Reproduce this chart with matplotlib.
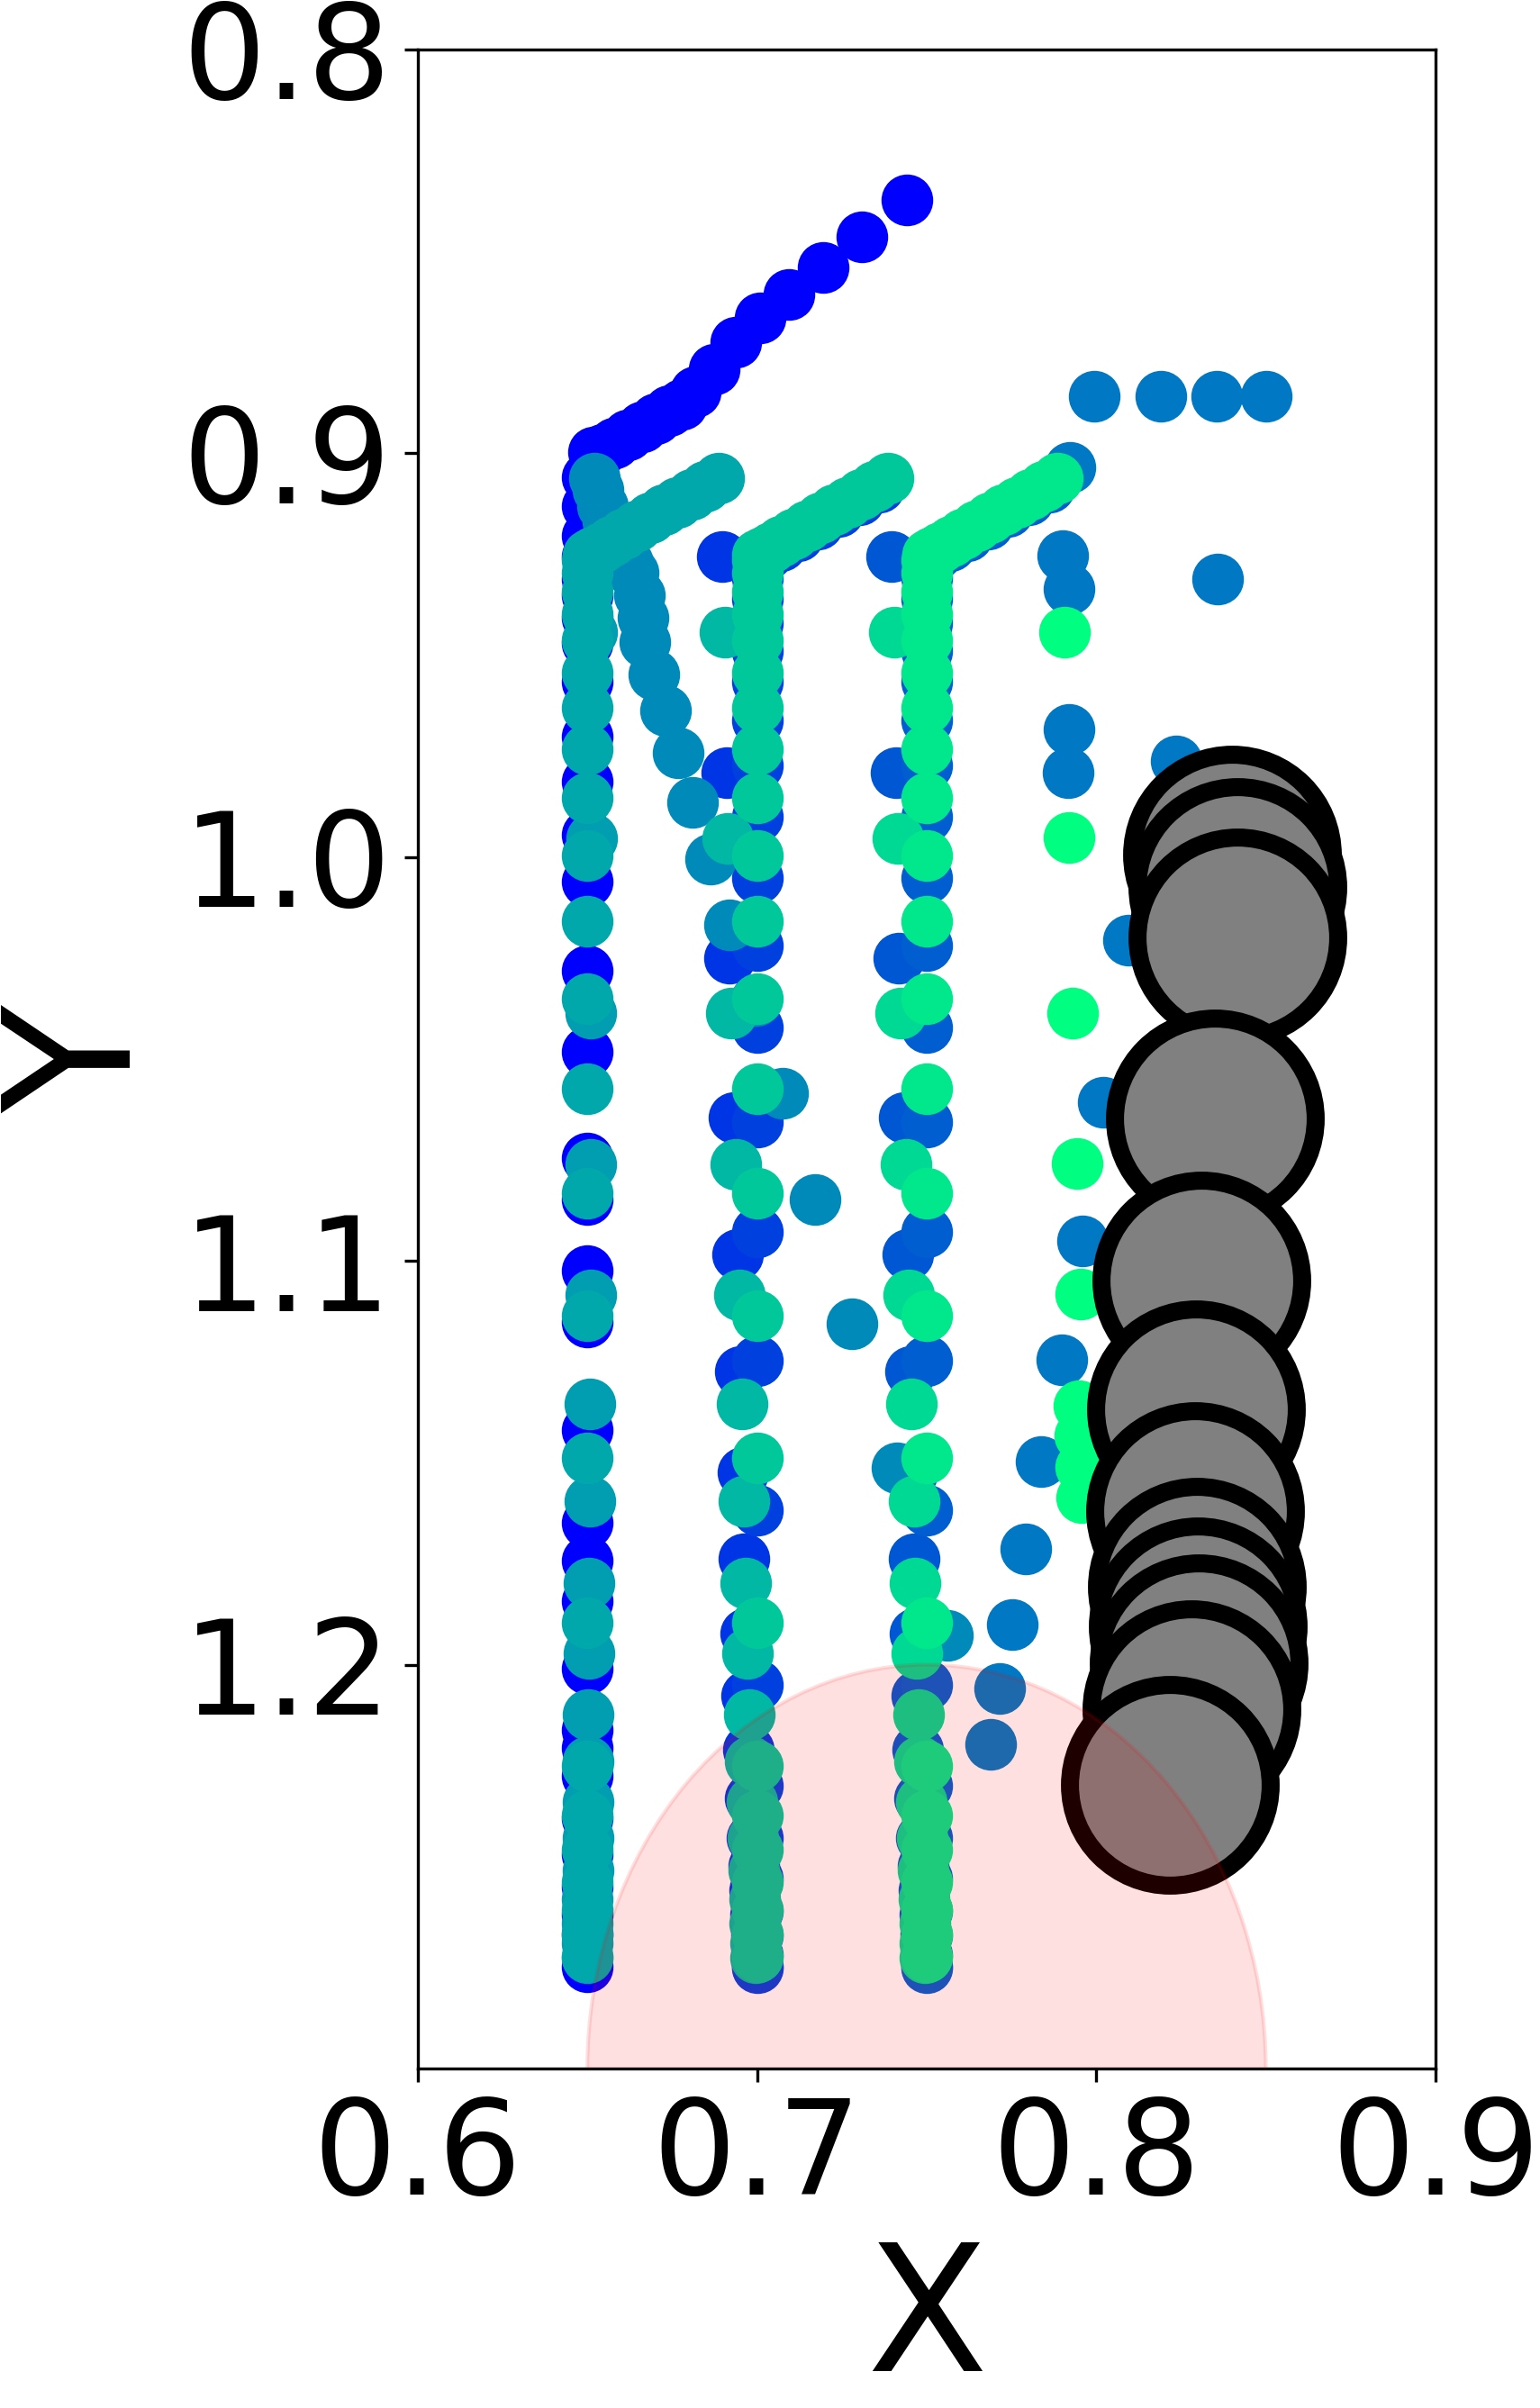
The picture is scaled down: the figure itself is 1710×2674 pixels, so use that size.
import numpy as np
import matplotlib
matplotlib.use("Agg")
import matplotlib.pyplot as plt
from matplotlib.patches import Circle

# colour of every agent = winter colormap at value t
cmap = plt.get_cmap("winter")

# agent 0 - pure blue, comes in from the top right, then walks down x=0.65
blue_col1_x = [0.7441, 0.7309, 0.7194, 0.7093, 0.7010, 0.6937, 0.6875, 0.6819, 0.6778, 0.6740,
               0.6700, 0.6660, 0.6620, 0.6580, 0.6545, 0.6519,
               0.650, 0.650, 0.650, 0.650, 0.650, 0.650, 0.650, 0.650, 0.650, 0.650,
               0.650, 0.650, 0.650, 0.650, 0.650, 0.650, 0.650, 0.650, 0.650, 0.650,
               0.650, 0.650, 0.650, 0.650, 0.650, 0.650, 0.650, 0.650, 0.650, 0.650,
               0.650, 0.650, 0.650]
blue_col1_y = [0.8373, 0.8464, 0.8541, 0.8607, 0.8665, 0.8725, 0.8793, 0.8848, 0.8878, 0.8895,
               0.8915, 0.8935, 0.8955, 0.8975, 0.8990, 0.8998,
               0.9060, 0.9130, 0.9204, 0.9256, 0.9312, 0.9351, 0.9407, 0.9471, 0.9566, 0.9702,
               0.9813, 0.9945, 1.0060, 1.0282, 1.0482, 1.0745, 1.0848, 1.1024, 1.1151, 1.1419,
               1.1648, 1.1742, 1.1842, 1.2011, 1.2161, 1.2206, 1.2275, 1.2380, 1.2469, 1.2549,
               1.2619, 1.2668, 1.2748]

# blue agents of the middle column
blue_off_col2_x = [0.6898, 0.6910, 0.6919, 0.6933, 0.6944, 0.6952, 0.6958, 0.6962, 0.6966,
                   0.6970, 0.6975, 0.6980, 0.6985, 0.6990, 0.6993, 0.6996, 0.6998, 0.7000]
blue_off_col2_y = [0.9256, 0.9790, 1.0251, 1.0645, 1.0984, 1.1275, 1.1523, 1.1737, 1.1922,
                   1.2076, 1.2210, 1.2330, 1.2429, 1.2499, 1.2559, 1.2619, 1.2668, 1.2748]
blue_main_col2_x = [0.7360, 0.7300, 0.7240, 0.7180, 0.7120, 0.7070, 0.7030, 0.7005,
                    0.700, 0.700, 0.700, 0.700, 0.700, 0.700, 0.700, 0.700, 0.700, 0.700,
                    0.700, 0.700, 0.700, 0.700, 0.700, 0.700, 0.700, 0.700, 0.700, 0.700,
                    0.700, 0.700, 0.700]
blue_main_col2_y = [0.9085, 0.9115, 0.9145, 0.9175, 0.9205, 0.9230, 0.9250, 0.9270,
                    0.9310, 0.9360, 0.9420, 0.9490, 0.9566, 0.9662, 0.9773, 0.9901, 1.0052, 1.0219,
                    1.0422, 1.0657, 1.0928, 1.1247, 1.1618, 1.2049, 1.2300, 1.2430, 1.2530, 1.2610,
                    1.2670, 1.2720, 1.2750]

# blue agents of the right column
blue_off_col3_x = [0.7398, 0.7410, 0.7419, 0.7433, 0.7444, 0.7452, 0.7458, 0.7462, 0.7466,
                   0.7470, 0.7475, 0.7480, 0.7485, 0.7490, 0.7493, 0.7496, 0.7498, 0.7500]
blue_off_col3_y = [0.9256, 0.9790, 1.0251, 1.0645, 1.0984, 1.1275, 1.1523, 1.1737, 1.1922,
                   1.2076, 1.2210, 1.2330, 1.2429, 1.2499, 1.2559, 1.2619, 1.2668, 1.2748]
blue_main_col3_x = [0.7860, 0.7800, 0.7740, 0.7680, 0.7620, 0.7570, 0.7530, 0.7505,
                    0.750, 0.750, 0.750, 0.750, 0.750, 0.750, 0.750, 0.750, 0.750, 0.750,
                    0.750, 0.750, 0.750, 0.750, 0.750, 0.750, 0.750, 0.750, 0.750, 0.750,
                    0.750, 0.750, 0.750]
blue_main_col3_y = [0.9085, 0.9115, 0.9145, 0.9175, 0.9205, 0.9230, 0.9250, 0.9270,
                    0.9310, 0.9360, 0.9420, 0.9490, 0.9566, 0.9662, 0.9773, 0.9901, 1.0052, 1.0219,
                    1.0422, 1.0657, 1.0928, 1.1247, 1.1618, 1.2049, 1.2300, 1.2430, 1.2530, 1.2610,
                    1.2670, 1.2720, 1.2750]

# mid blue agent on the far right, pushed aside by the obstacle
midblue_x = [0.8502, 0.8356, 0.8190, 0.7994, 0.7922, 0.7901, 0.7921, 0.8358, 0.7921, 0.7916,
             0.8235, 0.8096, 0.8020, 0.7959, 0.7899, 0.7837, 0.7793, 0.7753, 0.7715, 0.7688]
midblue_y = [0.8860, 0.8860, 0.8860, 0.8860, 0.9035, 0.9254, 0.9336, 0.9311, 0.9684, 0.9791,
             0.9762, 1.0206, 1.0607, 1.0950, 1.1244, 1.1497, 1.1713, 1.1901, 1.2058, 1.2197]

# agent that leaves the left column diagonally
diverge_x = [0.6521, 0.6530, 0.6545, 0.6560, 0.6580, 0.6600, 0.6620, 0.6635, 0.6654, 0.6663,
             0.6668, 0.6696, 0.6730, 0.6768, 0.6810, 0.6862, 0.6919, 0.6995, 0.7075, 0.7170,
             0.7279, 0.7412, 0.7561]
diverge_y = [0.9061, 0.9090, 0.9130, 0.9170, 0.9210, 0.9245, 0.9272, 0.9296, 0.9351, 0.9407,
             0.9467, 0.9547, 0.9638, 0.9742, 0.9865, 1.0005, 1.0168, 1.0355, 1.0585, 1.0848,
             1.1155, 1.1512, 1.1927]

# green agents, left column
teal_off_col1_x = [0.6512, 0.6512, 0.6511, 0.6510, 0.6510, 0.6508, 0.6506, 0.6505, 0.6504,
                   0.6503, 0.6502, 0.6502, 0.6501, 0.6501, 0.6500, 0.6500, 0.6500, 0.6500]
teal_off_col1_y = [0.9443, 0.9953, 1.0387, 1.0761, 1.1084, 1.1355, 1.1596, 1.1799, 1.1971,
                   1.2123, 1.2240, 1.2340, 1.2430, 1.2510, 1.2580, 1.2640, 1.2690, 1.2725]
teal_main_col1_x = [0.6886, 0.6846, 0.6806, 0.6766, 0.6726, 0.6686, 0.6646, 0.6606, 0.6571,
                    0.6541, 0.6516, 0.6502,
                    0.650, 0.650, 0.650, 0.650, 0.650, 0.650, 0.650, 0.650, 0.650, 0.650,
                    0.650, 0.650, 0.650, 0.650, 0.650, 0.650, 0.650, 0.650, 0.650, 0.650,
                    0.650, 0.650, 0.650, 0.650]
teal_main_col1_y = [0.9061, 0.9081, 0.9101, 0.9121, 0.9141, 0.9161, 0.9181, 0.9201, 0.9218,
                    0.9233, 0.9245, 0.9252,
                    0.9264, 0.9296, 0.9343, 0.9399, 0.9463, 0.9543, 0.9630, 0.9734, 0.9853, 0.9997,
                    1.0160, 1.0351, 1.0574, 1.0833, 1.1135, 1.1489, 1.1897, 1.2250, 1.2374, 1.2459,
                    1.2538, 1.2608, 1.2668, 1.2723]

# green agents, middle column
green_off_col2_x = [0.6905, 0.6914, 0.6924, 0.6938, 0.6948, 0.6955, 0.6962, 0.6967, 0.6971,
                    0.6976, 0.6980, 0.6985, 0.6988, 0.6990, 0.6992, 0.6994, 0.6995, 0.6996]
green_off_col2_y = [0.9443, 0.9953, 1.0387, 1.0761, 1.1084, 1.1355, 1.1596, 1.1799, 1.1971,
                    1.2123, 1.2240, 1.2340, 1.2430, 1.2510, 1.2580, 1.2640, 1.2690, 1.2725]
green_main_col2_x = [0.7386, 0.7346, 0.7306, 0.7266, 0.7226, 0.7186, 0.7146, 0.7106, 0.7071,
                     0.7041, 0.7016, 0.7002,
                     0.700, 0.700, 0.700, 0.700, 0.700, 0.700, 0.700, 0.700, 0.700, 0.700,
                     0.700, 0.700, 0.700, 0.700, 0.700, 0.700, 0.700, 0.700, 0.700, 0.700,
                     0.700, 0.700, 0.700, 0.700]
green_main_col2_y = [0.9061, 0.9081, 0.9101, 0.9121, 0.9141, 0.9161, 0.9181, 0.9201, 0.9218,
                     0.9233, 0.9245, 0.9252,
                     0.9264, 0.9296, 0.9343, 0.9399, 0.9463, 0.9543, 0.9630, 0.9734, 0.9853, 0.9997,
                     1.0160, 1.0351, 1.0574, 1.0833, 1.1135, 1.1489, 1.1897, 1.2250, 1.2374, 1.2459,
                     1.2538, 1.2608, 1.2668, 1.2723]

# green agents, right column
green_off_col3_x = [0.7405, 0.7414, 0.7424, 0.7438, 0.7448, 0.7455, 0.7462, 0.7467, 0.7471,
                    0.7476, 0.7480, 0.7485, 0.7488, 0.7490, 0.7492, 0.7494, 0.7495, 0.7496]
green_off_col3_y = [0.9443, 0.9953, 1.0387, 1.0761, 1.1084, 1.1355, 1.1596, 1.1799, 1.1971,
                    1.2123, 1.2240, 1.2340, 1.2430, 1.2510, 1.2580, 1.2640, 1.2690, 1.2725]
green_main_col3_x = [0.7886, 0.7846, 0.7806, 0.7766, 0.7726, 0.7686, 0.7646, 0.7606, 0.7571,
                     0.7541, 0.7516, 0.7502,
                     0.750, 0.750, 0.750, 0.750, 0.750, 0.750, 0.750, 0.750, 0.750, 0.750,
                     0.750, 0.750, 0.750, 0.750, 0.750, 0.750, 0.750, 0.750, 0.750, 0.750,
                     0.750, 0.750, 0.750, 0.750]
green_main_col3_y = [0.9061, 0.9081, 0.9101, 0.9121, 0.9141, 0.9161, 0.9181, 0.9201, 0.9218,
                     0.9233, 0.9245, 0.9252,
                     0.9264, 0.9296, 0.9343, 0.9399, 0.9463, 0.9543, 0.9630, 0.9734, 0.9853, 0.9997,
                     1.0160, 1.0351, 1.0574, 1.0833, 1.1135, 1.1489, 1.1897, 1.2250, 1.2374, 1.2459,
                     1.2538, 1.2608, 1.2668, 1.2723]

# last green agent, far right
green_right_x = [0.7906, 0.7919, 0.7931, 0.7943, 0.7953, 0.7950, 0.7952, 0.7955, 0.7958]
green_right_y = [0.9443, 0.9951, 1.0386, 1.0759, 1.1083, 1.1359, 1.1433, 1.1510, 1.1586]

# colour value per agent, drawn in this order
agents = [
    (blue_col1_x, blue_col1_y, 0.0),
    (blue_off_col2_x, blue_off_col2_y, 0.21),
    (blue_main_col2_x, blue_main_col2_y, 0.25),
    (blue_off_col3_x, blue_off_col3_y, 0.34),
    (blue_main_col3_x, blue_main_col3_y, 0.37),
    (midblue_x, midblue_y, 0.47),
    (diverge_x, diverge_y, 0.54),
    (teal_off_col1_x, teal_off_col1_y, 0.62),
    (teal_main_col1_x, teal_main_col1_y, 0.66),
    (green_off_col2_x, green_off_col2_y, 0.72),
    (green_main_col2_x, green_main_col2_y, 0.785),
    (green_off_col3_x, green_off_col3_y, 0.85),
    (green_main_col3_x, green_main_col3_y, 0.91),
    (green_right_x, green_right_y, 1.0),
]

# moving obstacle (grey discs)
obst_x = [0.8400, 0.8416, 0.8417, 0.8349, 0.8311, 0.8294, 0.8292, 0.8297, 0.8300, 0.8303,
          0.8280, 0.8216]
obst_y = [0.9994, 1.0074, 1.0199, 1.0648, 1.1048, 1.1367, 1.1620, 1.1808, 1.1905, 1.1997,
          1.2110, 1.2298]

# goal region
goal_center = (0.75, 1.3)
goal_radius = 0.1

fig = plt.figure(figsize=(5.7, 2674 / 300), dpi=300)
ax = fig.add_axes([0.2713, 0.1410, 0.6608, 0.8385])

for xs, ys, t in agents:
    ax.scatter(xs, ys, s=190, color=cmap(t), linewidths=0, zorder=2)

ax.scatter(obst_x, obst_y, s=2860, color="gray", edgecolors="black", linewidths=4.8, zorder=3)

ax.add_patch(Circle(goal_center, goal_radius, color="red", alpha=0.12, zorder=4))

ax.set_xlim(0.6, 0.9)
ax.set_ylim(1.3, 0.8)
ax.set_xticks([0.6, 0.7, 0.8, 0.9])
ax.set_yticks([0.8, 0.9, 1.0, 1.1, 1.2])
ax.tick_params(labelsize=35)
ax.set_xlabel("X", fontsize=47)
ax.set_ylabel("Y", fontsize=47)

fig.savefig("out.png", dpi=300)
